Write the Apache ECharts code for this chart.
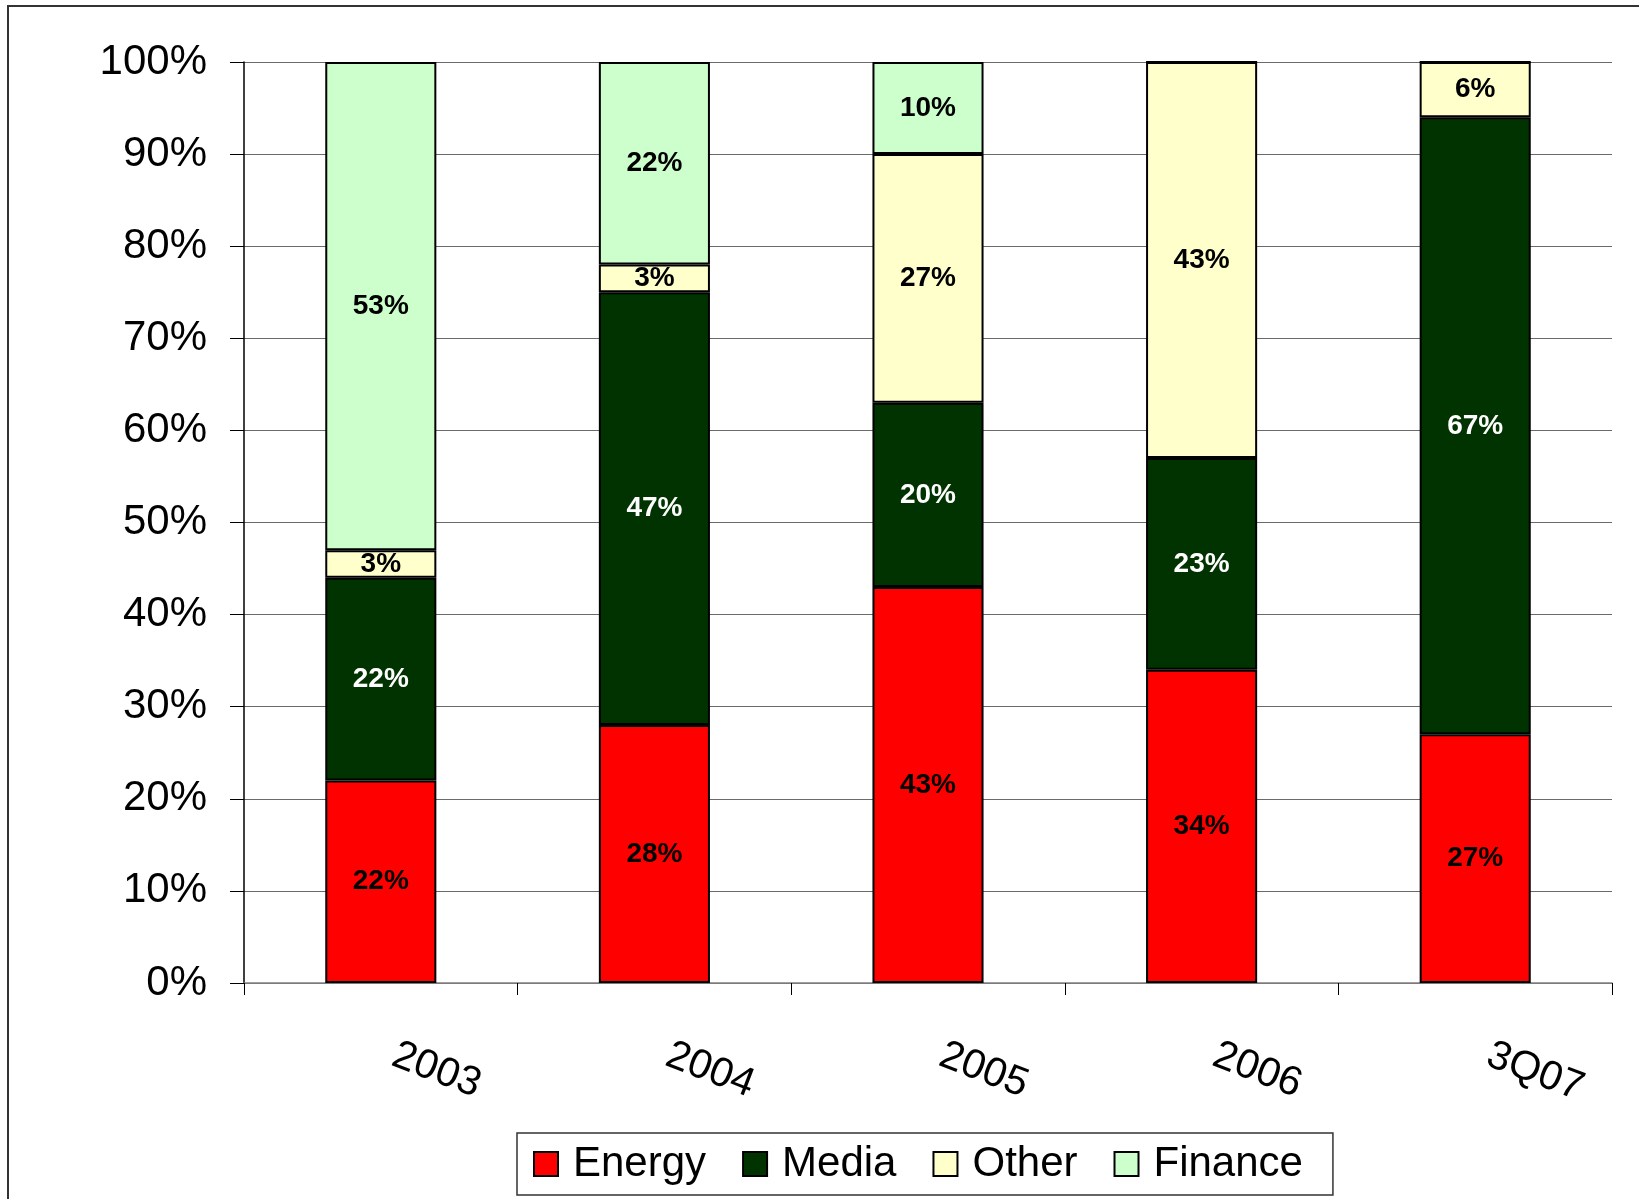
<!DOCTYPE html>
<html>
<head>
<meta charset="utf-8">
<title>Sector mix by year</title>
<script src="https://cdn.jsdelivr.net/npm/echarts@6/dist/echarts.min.js"></script>
<style>
  html, body { margin: 0; padding: 0; background: #fff; }
  #chart { width: 1639px; height: 1199px; }
</style>
</head>
<body>
<div id="chart"></div>
<script>
// Categories along the x axis
const periods = ['2003', '2004', '2005', '2006', '3Q07'];

// Share of each sector per period (percent)
const energy  = [22, 28, 43, 34, 27];
const media   = [22, 47, 20, 23, 67];
const other   = [3, 3, 27, 43, 6];
const finance = [53, 22, 10, 0, 0];

const FONT = '"Liberation Sans", Arial, Helvetica, sans-serif';

function makeSeries(name, values, fill, labelColor) {
  return {
    name: name,
    type: 'bar',
    stack: 'total',
    barWidth: '40.6%',
    data: values,
    itemStyle: { color: fill, borderColor: '#000', borderWidth: 2 },
    label: {
      show: true,
      position: 'inside',
      color: labelColor,
      fontFamily: FONT,
      fontWeight: 'bold',
      fontSize: 28,
      formatter: p => (p.value ? p.value + '%' : '')
    },
    emphasis: { disabled: true }
  };
}

const chart = echarts.init(document.getElementById('chart'), null, { renderer: 'canvas' });

chart.setOption({
  animation: false,
  backgroundColor: '#fff',
  graphic: [{
    type: 'rect',
    silent: true,
    shape: { x: 8, y: 6, width: 1700, height: 1300 },
    style: { fill: 'none', stroke: '#333', lineWidth: 2 }
  }],
  grid: { left: 244, right: 27, top: 62, bottom: 216, containLabel: false },
  xAxis: {
    type: 'category',
    data: periods,
    boundaryGap: true,
    axisLine: { show: true, lineStyle: { color: '#808080', width: 1.5 } },
    axisTick: { show: true, interval: 0, length: 12, lineStyle: { color: '#000', width: 1 } },
    axisLabel: {
      interval: 0,
      rotate: -21,
      margin: 66,
      padding: [0, 0, 0, 14],
      color: '#000',
      fontFamily: FONT,
      fontSize: 41
    }
  },
  yAxis: {
    type: 'value',
    min: 0,
    max: 100,
    interval: 10,
    axisLine: { show: true, lineStyle: { color: '#000', width: 1.5 } },
    axisTick: { show: true, length: 14, lineStyle: { color: '#000', width: 1 } },
    splitLine: { show: true, lineStyle: { color: '#6a6a6a', width: 1.2 } },
    axisLabel: {
      formatter: '{value}%',
      margin: 37,
      color: '#000',
      fontFamily: FONT,
      fontSize: 42
    }
  },
  legend: {
    left: 517,
    top: 1133,
    orient: 'horizontal',
    icon: 'rect',
    itemWidth: 24,
    itemHeight: 24,
    itemGap: 36,
    selectedMode: false,
    borderColor: '#333',
    borderWidth: 1.5,
    padding: [10, 30, 10, 16],
    textStyle: {
      color: '#000',
      fontFamily: FONT,
      fontSize: 42,
      padding: [0, 0, 0, 10]
    },
    data: ['Energy', 'Media', 'Other', 'Finance']
  },
  series: [
    makeSeries('Energy', energy, '#FF0000', '#000'),
    makeSeries('Media', media, '#003300', '#fff'),
    makeSeries('Other', other, '#FFFFCC', '#000'),
    makeSeries('Finance', finance, '#CCFFCC', '#000')
  ]
});
</script>
</body>
</html>
